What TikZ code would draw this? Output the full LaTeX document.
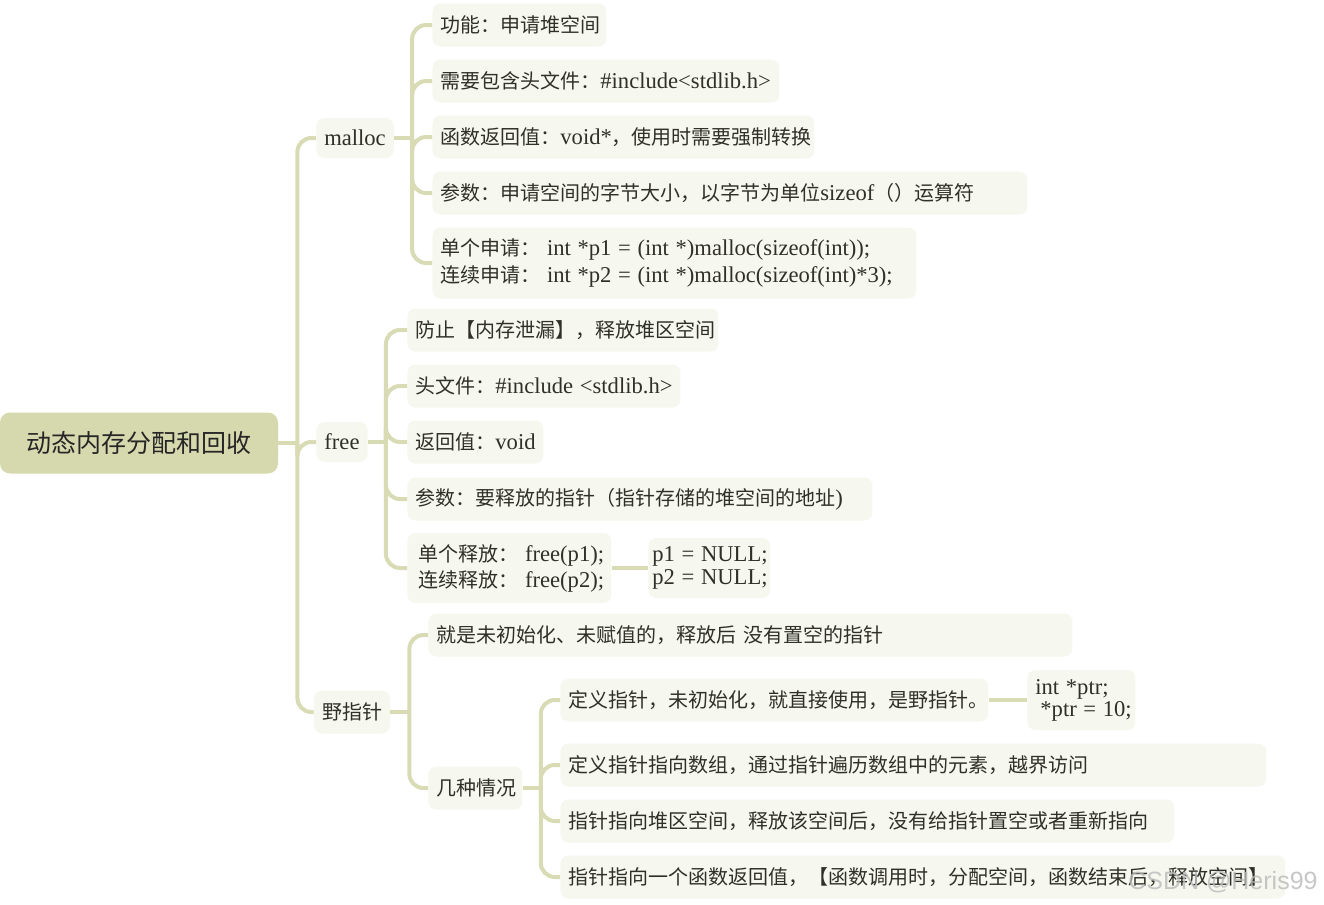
\documentclass[tikz,border=0pt]{standalone}
\usepackage{fontspec}
\setmainfont{Noto Sans CJK SC}
\newfontfamily\codefont{Liberation Serif}[Scale=1.13]
\newfontfamily\markfont{Liberation Sans}
\usetikzlibrary{positioning}
\definecolor{rootfill}{RGB}{214,217,174}
\definecolor{boxfill}{RGB}{246,247,238}
\definecolor{linecolor}{RGB}{216,219,180}
\definecolor{inkgray}{RGB}{48,48,40}
\newcommand{\eng}[1]{\mbox{\codefont #1}}

\begin{document}
\begin{tikzpicture}[x=0.5pt, y=-0.5pt,
    rootbox/.style={rectangle, rounded corners=5pt, fill=rootfill, text=black!85, minimum width=139pt, minimum height=30.5pt, font=\fontsize{12.5}{15}\selectfont},
    topicbox/.style={rectangle, rounded corners=4pt, fill=boxfill, text=inkgray, minimum height=20pt, inner xsep=4pt, font=\fontsize{10}{13}\selectfont},
    leaf/.style={rectangle, rounded corners=4pt, fill=boxfill, text=inkgray, minimum height=21.5pt, inner xsep=4pt, anchor=west, align=left, font=\fontsize{10}{13.5}\selectfont},
    branch/.style={draw=linecolor, line width=2pt, rounded corners=7pt}]
    \useasboundingbox (0,0) rectangle (1324,905);

    % Root and main topics
    \node[rootbox] (root) at (139,443) {动态内存分配和回收};
    \node[topicbox] (malloc) at (355,138) {\eng{malloc}};
    \node[topicbox] (free) at (342,442) {\eng{free}};
    \node[topicbox, minimum height=21.5pt] (wild) at (352,712) {野指针};

    % malloc branch
    \node[leaf, text width=79pt] (m1) at (432,25) {功能：申请堆空间};
    \node[leaf, text width=165.5pt] (m2) at (432,81) {需要包含头文件：\eng{\#include<stdlib.h>}};
    \node[leaf, text width=183pt] (m3) at (432,137) {函数返回值：\eng{void*}，使用时需要强制转换};
    \node[leaf, text width=289.5pt] (m4) at (432,193) {参数：申请空间的字节大小，以字节为单位\eng{sizeof}（）运算符};
    \node[leaf, text width=234pt, minimum height=35.5pt] (m5) at (432,263) {单个申请：\eng{ int *p1 = (int *)malloc(sizeof(int));}\\连续申请：\eng{ int *p2 = (int *)malloc(sizeof(int)*3);}};

    % free branch
    \node[leaf, text width=147.5pt] (f1) at (407,330) {防止【内存泄漏】，释放堆区空间};
    \node[leaf, text width=128.5pt] (f2) at (407,386) {头文件：\eng{\#include <stdlib.h>}};
    \node[leaf, text width=60pt] (f3) at (407,442) {返回值：\eng{void}};
    \node[leaf, text width=224.5pt] (f4) at (407,499) {参数：要释放的指针（指针存储的堆空间的地址\eng{)}};
    \node[leaf, text width=91pt, inner xsep=5.5pt, minimum height=35pt, font=\fontsize{10}{13}\selectfont] (f5) at (407,568) {单个释放：\eng{ free(p1);}\\连续释放：\eng{ free(p2);}};
    \node[leaf, text width=57pt, inner xsep=2pt, minimum height=30pt, font=\fontsize{10}{11.5}\selectfont] (f6) at (648,568) {\eng{p1 = NULL;}\\\eng{p2 = NULL;}};

    % wild pointer branch
    \node[leaf, text width=314pt] (w1) at (428,635) {就是未初始化、未赋值的，释放后 没有置空的指针};
    \node[leaf, text width=39pt] (w2) at (428,788) {几种情况};
    \node[leaf, text width=206pt] (w3) at (560,700) {定义指针，未初始化，就直接使用，是野指针。};
    \node[leaf, text width=46pt, minimum height=30pt, font=\fontsize{10}{11}\selectfont] (w4) at (1027,700) {\eng{int *ptr;}\\\hspace*{0.25em}\eng{*ptr = 10;}};
    \node[leaf, text width=345pt] (w5) at (560,765) {定义指针指向数组，通过指针遍历数组中的元素，越界访问};
    \node[leaf, text width=299pt] (w6) at (560,821) {指针指向堆区空间，释放该空间后，没有给指针置空或者重新指向};
    \node[leaf, text width=354.5pt] (w7) at (560,877) {指针指向一个函数返回值，【函数调用时，分配空间，函数结束后，释放空间】};

    % Junctions
    \coordinate[right=9.5pt of root] (trunk);
    \coordinate[right=9pt of malloc] (mj);
    \coordinate[right=9pt of free] (fj);
    \coordinate[right=9.5pt of wild] (wj);
    \coordinate[right=9pt of w2] (cj);

    % Connectors
    \draw[branch] (root.east) -- (trunk);
    \foreach \n in {malloc,free,wild} \draw[branch] (trunk) |- (\n.west);
    \draw[branch] (malloc.east) -- (mj);
    \foreach \n in {m1,m2,m3,m4,m5} \draw[branch] (mj) |- (\n.west);
    \draw[branch] (free.east) -- (fj);
    \foreach \n in {f1,f2,f3,f4,f5} \draw[branch] (fj) |- (\n.west);
    \draw[branch] (f5.east) -- (f6.west);
    \draw[branch] (wild.east) -- (wj);
    \foreach \n in {w1,w2} \draw[branch] (wj) |- (\n.west);
    \draw[branch] (w2.east) -- (cj);
    \foreach \n in {w3,w5,w6,w7} \draw[branch] (cj) |- (\n.west);
    \draw[branch] (w3.east) -- (w4.west);

    % Watermark
    \node[text=gray!55, opacity=0.8, anchor=east, inner sep=0pt, font=\markfont\fontsize{12.5}{15}\selectfont] (mark) at (1318,882) {CSDN @Heris99};
\end{tikzpicture}
\end{document}
